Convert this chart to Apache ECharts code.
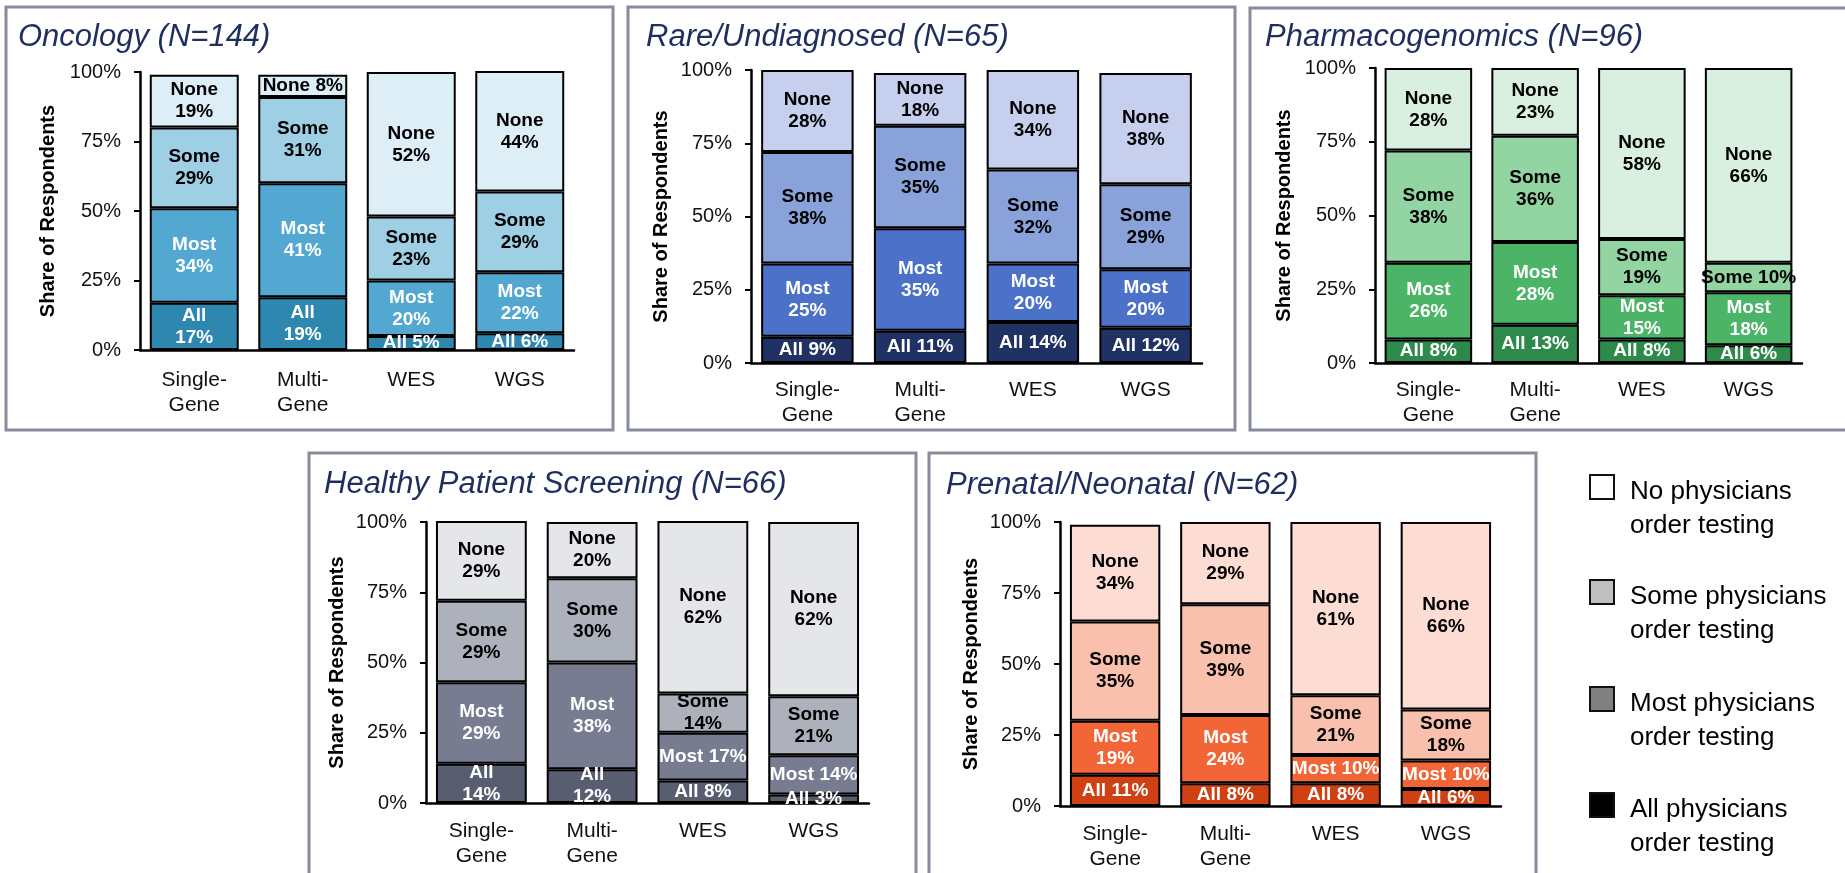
<!DOCTYPE html>
<html>
<head>
<meta charset="utf-8">
<script src="https://cdn.jsdelivr.net/npm/echarts@6/dist/echarts.min.js"></script>
<style>
html,body{margin:0;padding:0;background:#ffffff;}
#chart{width:1845px;height:873px;}
</style>
</head>
<body>
<div id="chart"></div>
<script>
// ---------------- DATA ----------------
const categories = ['Single-\nGene', 'Multi-\nGene', 'WES', 'WGS'];
const levels = ['All', 'Most', 'Some', 'None'];
const yAxisMin = 0, yAxisMax = 100, yAxisInterval = 25;
const yAxisTitle = 'Share of Respondents';
const panelTitles = ['Oncology (N=144)', 'Rare/Undiagnosed (N=65)', 'Pharmacogenomics (N=96)',
                     'Healthy Patient Screening (N=66)', 'Prenatal/Neonatal (N=62)'];
const legendLabels = ['No physicians\norder testing', 'Some physicians\norder testing',
                      'Most physicians\norder testing', 'All physicians\norder testing'];

const oncologyAll  = [17, 19, 5, 6];
const oncologyMost = [34, 41, 20, 22];
const oncologySome = [29, 31, 23, 29];
const oncologyNone = [19, 8, 52, 44];

const rareAll  = [9, 11, 14, 12];
const rareMost = [25, 35, 20, 20];
const rareSome = [38, 35, 32, 29];
const rareNone = [28, 18, 34, 38];

const pharmaAll  = [8, 13, 8, 6];
const pharmaMost = [26, 28, 15, 18];
const pharmaSome = [38, 36, 19, 10];
const pharmaNone = [28, 23, 58, 66];

const healthyAll  = [14, 12, 8, 3];
const healthyMost = [29, 38, 17, 14];
const healthySome = [29, 30, 14, 21];
const healthyNone = [29, 20, 62, 62];

const prenatalAll  = [11, 8, 8, 6];
const prenatalMost = [19, 24, 10, 10];
const prenatalSome = [35, 39, 21, 18];
const prenatalNone = [34, 29, 61, 66];

// ---------------- BUILD ----------------
const panelData = [
  [oncologyAll, oncologyMost, oncologySome, oncologyNone],
  [rareAll, rareMost, rareSome, rareNone],
  [pharmaAll, pharmaMost, pharmaSome, pharmaNone],
  [healthyAll, healthyMost, healthySome, healthyNone],
  [prenatalAll, prenatalMost, prenatalSome, prenatalNone]
];

const palettes = [
  ['#2e87af', '#52a8d1', '#9ecfe5', '#ddeef7'],
  ['#1f3263', '#4b71c8', '#8aa2da', '#c6d0ee'],
  ['#2e8a4a', '#4bb467', '#93d4a3', '#d9efdf'],
  ['#585d6f', '#777c90', '#adb1bb', '#e5e6ea'],
  ['#cf4013', '#f26536', '#f9c1ad', '#fcdcd3']
];
const labelColors = ['#ffffff', '#ffffff', '#000000', '#000000'];

// segments whose label sits on one line: "panel-level-category"
const oneLine = new Set([
  '0-3-1', '0-0-2', '0-0-3',
  '1-0-0', '1-0-1', '1-0-2', '1-0-3',
  '2-0-0', '2-0-1', '2-0-2', '2-0-3', '2-2-3',
  '3-0-2', '3-0-3', '3-1-2', '3-1-3',
  '4-0-0', '4-0-1', '4-0-2', '4-0-3', '4-1-2', '4-1-3'
]);

const layout = [
  {grid: {left: 140, top: 72, width: 434, height: 278}, nameGap: 82, xMargin: 18,
   box: [6, 7, 607, 423], title: [18, 37]},
  {grid: {left: 751, top: 70, width: 451, height: 293}, nameGap: 80, xMargin: 15,
   box: [628, 7, 607, 423], title: [646, 37]},
  {grid: {left: 1375, top: 68, width: 427, height: 295}, nameGap: 81, xMargin: 15,
   box: [1250, 8, 700, 422], title: [1265, 37]},
  {grid: {left: 426, top: 522, width: 443, height: 281}, nameGap: 79, xMargin: 16,
   box: [309, 453, 607, 500], title: [324, 484]},
  {grid: {left: 1060, top: 522, width: 441, height: 284}, nameGap: 79, xMargin: 16,
   box: [929, 453, 607, 500], title: [946, 485]}
];

const FONT = 'Liberation Sans, Arial, Helvetica, sans-serif';

const grids = [], xAxes = [], yAxes = [], series = [], graphics = [];

layout.forEach((L, p) => {
  grids.push(Object.assign({containLabel: false}, L.grid));
  xAxes.push({
    type: 'category', gridIndex: p, data: categories,
    axisLine: {show: true, lineStyle: {color: '#000', width: 2.5}},
    axisTick: {show: false},
    axisLabel: {fontFamily: FONT, fontSize: 21, color: '#111', lineHeight: 25, margin: L.xMargin, interval: 0}
  });
  yAxes.push({
    type: 'value', gridIndex: p, min: yAxisMin, max: yAxisMax, interval: yAxisInterval,
    name: yAxisTitle, nameLocation: 'middle', nameGap: L.nameGap, nameRotate: 90,
    nameTextStyle: {fontFamily: FONT, fontSize: 20, fontWeight: 'bold', color: '#000'},
    axisLine: {show: true, lineStyle: {color: '#000', width: 2.5}},
    axisTick: {show: true, length: 6, lineStyle: {color: '#000', width: 2}},
    splitLine: {show: false},
    axisLabel: {fontFamily: FONT, fontSize: 20, color: '#111', margin: 19, formatter: '{value}%'}
  });
  panelData[p].forEach((vals, l) => {
    series.push({
      type: 'bar', xAxisIndex: p, yAxisIndex: p, stack: 'panel' + p,
      name: levels[l], data: vals, barCategoryGap: '18%',
      itemStyle: {color: palettes[p][l], borderColor: '#000', borderWidth: 2},
      emphasis: {disabled: true},
      label: {
        show: true, position: 'inside', fontFamily: FONT, fontSize: 19, fontWeight: 'bold',
        lineHeight: 22, color: labelColors[l],
        formatter: (prm) => levels[l] + (oneLine.has(p + '-' + l + '-' + prm.dataIndex) ? ' ' : '\n') + prm.value + '%'
      }
    });
  });
  graphics.push({
    type: 'rect', shape: {x: L.box[0], y: L.box[1], width: L.box[2], height: L.box[3]},
    style: {fill: 'none', stroke: '#878b9d', lineWidth: 3}, silent: true
  });
  graphics.push({
    type: 'text', x: L.title[0], y: L.title[1],
    style: {text: panelTitles[p], fontFamily: FONT, fontSize: 31, fontStyle: 'italic',
            fill: '#1f2e5e', verticalAlign: 'middle', align: 'left'}, silent: true
  });
});

// legend
const legendFills = ['#ffffff', '#c0c0c0', '#808080', '#000000'];
const legendTops = [475, 580, 687, 793];
legendLabels.forEach((t, i) => {
  graphics.push({
    type: 'rect', shape: {x: 1590, y: legendTops[i], width: 24, height: 24},
    style: {fill: legendFills[i], stroke: '#111', lineWidth: 2}, silent: true
  });
  graphics.push({
    type: 'text', x: 1630, y: legendTops[i],
    style: {text: t, fontFamily: FONT, fontSize: 26, lineHeight: 34, fill: '#000',
            verticalAlign: 'top', align: 'left'}, silent: true
  });
});

const chart = echarts.init(document.getElementById('chart'));
chart.setOption({
  animation: false,
  backgroundColor: '#ffffff',
  grid: grids, xAxis: xAxes, yAxis: yAxes, series: series,
  graphic: graphics
});
</script>
</body>
</html>
